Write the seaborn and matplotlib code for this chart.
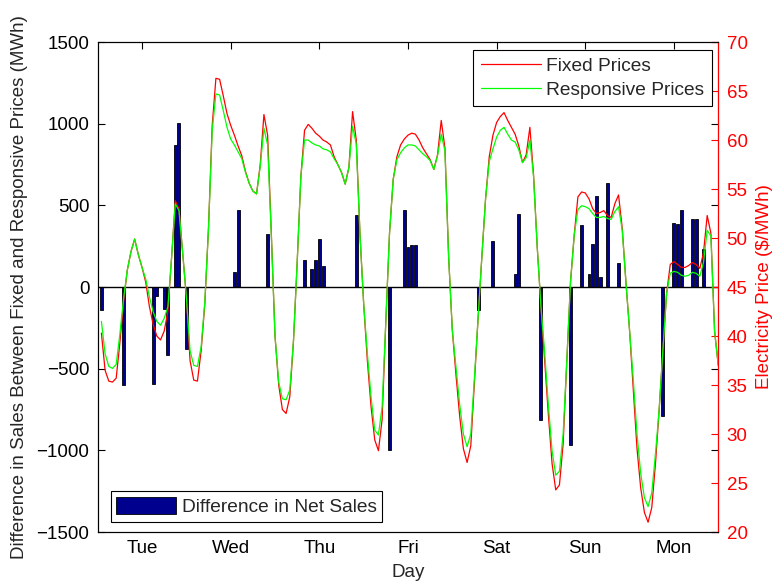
import numpy as np
import pandas as pd
import matplotlib
matplotlib.use("Agg")
import matplotlib.pyplot as plt
import seaborn as sns
from matplotlib.lines import Line2D
from matplotlib.patches import Patch

# ---------------- data ----------------
day_labels = ["Tue", "Wed", "Thu", "Fri", "Sat", "Sun", "Mon"]
hours = np.arange(1, 169)

fixed_price = [
    40.3, 36.5, 35.4, 35.3, 35.7, 39.3, 43.5, 46.7, 48.6, 49.9, 48.3, 47.0, 45.5, 43.0, 41.2, 40.0, 39.6, 40.5, 42.5, 48.0, 53.8, 53.0, 48.5, 44.0,
    37.5, 35.5, 35.4, 38.5, 43.3, 51.1, 61.5, 66.3, 66.2, 64.5, 62.7, 61.5, 60.5, 59.4, 58.4, 56.8, 55.6, 54.8, 54.5, 57.5, 62.6, 60.5, 50.5, 40.0,
    35.0, 32.5, 32.1, 33.8, 39.5, 47.5, 56.3, 61.0, 61.6, 61.2, 60.7, 60.4, 60.0, 59.8, 59.5, 58.3, 57.5, 56.7, 55.5, 57.2, 62.9, 60.0, 50.4, 43.3,
    37.5, 32.8, 29.4, 28.3, 31.5, 41.5, 50.5, 56.0, 58.3, 59.5, 60.1, 60.5, 60.7, 60.6, 60.0, 59.2, 58.6, 58.0, 57.0, 58.5, 62.0, 59.2, 48.1, 40.6,
    36.0, 31.8, 28.5, 27.1, 28.8, 35.5, 42.0, 48.1, 54.0, 58.3, 60.5, 61.8, 62.4, 62.8, 62.0, 61.3, 60.6, 59.4, 57.7, 58.5, 61.3, 56.4, 49.0, 43.0,
    37.5, 32.0, 27.0, 24.3, 24.8, 29.0, 37.5, 45.5, 50.3, 54.2, 54.7, 54.6, 54.0, 53.0, 52.5, 52.6, 52.8, 52.3, 52.1, 53.5, 54.4, 51.0, 45.5, 40.5,
    34.5, 28.5, 24.5, 22.0, 21.0, 22.5, 27.0, 32.5, 38.5, 44.3, 47.3, 47.6, 47.3, 47.0, 47.0, 47.2, 47.5, 47.3, 46.9, 48.5, 52.3, 50.5, 40.5, 37.0,
]

responsive_price = [
    41.5, 38.2, 36.9, 36.7, 37.1, 40.2, 43.8, 46.7, 48.6, 49.9, 48.3, 47.0, 45.8, 44.0, 42.5, 41.5, 41.1, 41.8, 43.0, 48.0, 53.5, 52.8, 48.5, 44.0,
    38.5, 37.0, 36.9, 38.9, 43.5, 51.0, 61.0, 64.7, 64.6, 63.0, 61.3, 60.1, 59.5, 58.8, 58.1, 56.7, 55.6, 54.8, 54.5, 57.3, 61.2, 59.5, 50.3, 40.0,
    35.3, 33.6, 33.5, 34.5, 39.5, 47.5, 56.3, 60.0, 60.0, 59.7, 59.5, 59.4, 59.1, 59.0, 58.8, 58.1, 57.5, 56.7, 55.5, 57.2, 61.4, 59.6, 50.4, 43.3,
    38.2, 33.8, 30.4, 29.9, 32.8, 41.5, 50.5, 56.0, 58.0, 58.7, 59.2, 59.5, 59.5, 59.4, 59.0, 58.6, 58.3, 57.9, 57.0, 58.4, 60.6, 58.9, 48.1, 40.6,
    36.8, 33.0, 30.0, 28.7, 30.0, 35.8, 42.0, 48.1, 54.0, 57.8, 59.1, 60.3, 61.0, 61.3, 60.6, 60.0, 59.8, 59.0, 57.7, 58.2, 60.0, 56.2, 49.0, 43.0,
    38.3, 33.0, 28.3, 25.8, 26.2, 30.0, 37.5, 45.5, 50.3, 52.9, 53.3, 53.2, 53.0, 52.5, 52.1, 52.1, 52.2, 52.0, 51.9, 52.7, 53.2, 50.8, 45.5, 40.5,
    35.5, 30.0, 26.0, 23.5, 22.6, 24.0, 28.0, 32.5, 38.5, 44.3, 46.4, 46.6, 46.5, 46.2, 46.1, 46.2, 46.5, 46.4, 46.1, 47.5, 50.8, 50.2, 40.5, 37.0,
]

bar_hours = [1, 7, 15, 16, 18, 19, 21, 22, 24, 37, 38, 46, 56, 58, 59, 60, 61, 70,
             79, 83, 84, 85, 86, 103, 107, 113, 114, 120, 128, 131, 133, 134, 135,
             136, 138, 141, 153, 156, 157, 158, 161, 162, 164]
bar_values = [-139, -602, -592, -52, -133, -418, 867, 1004, -378, 91, 473, 327, 163, 112, 163, 292, 129, 443,
              -1000, 469, 245, 255, 259, -139, 282, 78, 445, -816, -970, 382, 78, 265, 555,
              61, 639, 150, -792, 392, 384, 469, 418, 418, 233]

# ---------------- style ----------------
sns.set_style("white")
plt.rcParams["font.family"] = ["Liberation Sans", "DejaVu Sans"]
plt.rcParams["axes.unicode_minus"] = True
FS = 13.5
NAVY = "#00008F"
RED = "#FF0000"
GREEN = "#00FF00"

fig = plt.figure(figsize=(7.73, 5.84), dpi=100)
ax1 = fig.add_axes([0.1264, 0.089, 0.8028, 0.839])
ax2 = ax1.twinx()

bars_df = pd.DataFrame({"day": np.array(bar_hours) / 24.0, "diff": bar_values})
sns.barplot(data=bars_df, x="day", y="diff", native_scale=True, orient="x",
            ax=ax1, color=NAVY, saturation=1, edgecolor="black",
            linewidth=0.6, errorbar=None, width=0.8)
ax1.axhline(0, color="black", lw=1.0, zorder=3)

sns.lineplot(x=hours / 24.0, y=fixed_price, ax=ax2, color=RED, lw=0.9, legend=False)
sns.lineplot(x=hours / 24.0, y=responsive_price, ax=ax2, color=GREEN, lw=0.9, legend=False)

# ---------------- axes ----------------
ax1.set_xlim(0, 7)
ax1.set_ylim(-1500, 1500)
ax2.set_ylim(20, 70)
ax1.set_xticks(np.arange(7) + 0.5)
ax1.set_xticklabels(day_labels)
ax1.set_yticks(np.arange(-1500, 1501, 500))
ax2.set_yticks(np.arange(20, 71, 5))

ax1.tick_params(axis="both", direction="in", length=5, width=0.8, labelsize=FS,
                top=True, right=True, labelright=False, pad=6, colors="black")
ax2.tick_params(axis="y", direction="in", length=5, width=0.8, labelsize=FS,
                colors=RED, pad=6, left=False)

for sp in ax1.spines.values():
    sp.set_color("black")
    sp.set_linewidth(0.8)
for name, sp in ax2.spines.items():
    sp.set_linewidth(0.8)
    sp.set_color(RED if name == "right" else "black")

ax1.set_xlabel("Day", fontsize=FS, labelpad=5)
ax1.set_ylabel("Difference in Sales Between Fixed and Responsive Prices (MWh)",
               fontsize=FS, labelpad=6)
ax2.set_ylabel(r"Electricity Price (\$/MWh)", fontsize=FS, color=RED, labelpad=6)
ax1.grid(False)
ax2.grid(False)

# ---------------- legends ----------------
h_fixed = Line2D([], [], color=RED, lw=0.9)
h_resp = Line2D([], [], color=GREEN, lw=0.9)
leg1 = ax2.legend([h_fixed, h_resp], ["Fixed Prices", "Responsive Prices"],
                  loc="upper right", bbox_to_anchor=(0.99, 0.984), fontsize=13.8,
                  frameon=True, fancybox=False, edgecolor="black", framealpha=1,
                  handlelength=3.1, handletextpad=0.3, borderpad=0.4,
                  labelspacing=0.32, borderaxespad=0)
leg1.get_frame().set_linewidth(0.8)
ax2.add_artist(leg1)

p_bar = Patch(facecolor=NAVY, edgecolor="black", lw=0.6)
leg2 = ax2.legend([p_bar], ["Difference in Net Sales"], loc="lower left",
                  bbox_to_anchor=(0.021, 0.021), fontsize=13.8, frameon=True,
                  fancybox=False, edgecolor="black", framealpha=1,
                  handlelength=3.1, handleheight=0.95, handletextpad=0.3,
                  borderpad=0.3, borderaxespad=0)
leg2.get_frame().set_linewidth(0.8)

fig.savefig("out.png", dpi=100)
